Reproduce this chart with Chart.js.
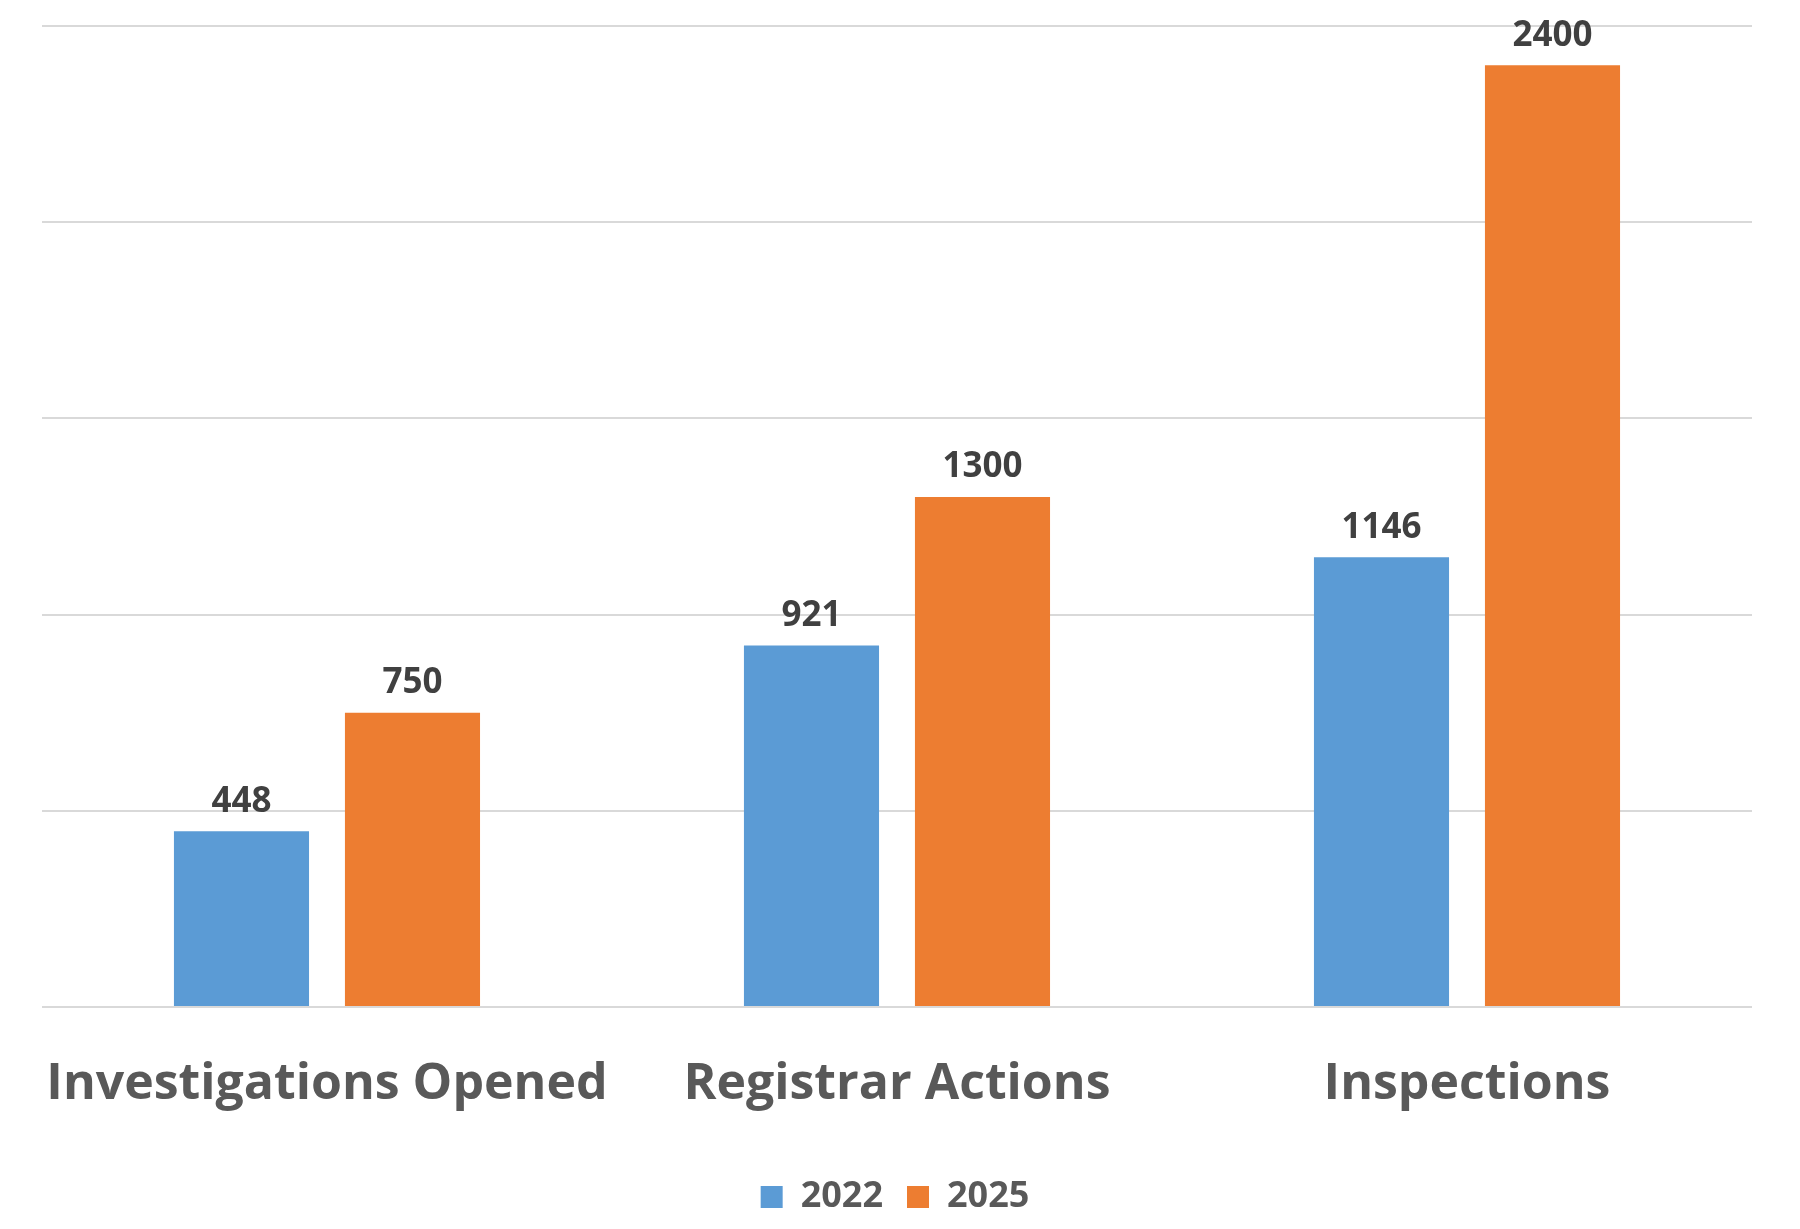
<!DOCTYPE html>
<html><head><meta charset="utf-8">
<script src="https://cdn.jsdelivr.net/npm/chart.js@4"></script>
<style>html,body{margin:0;padding:0;background:#fff}#w{width:1800px;height:1229px}</style>
</head><body><div id="w"><canvas id="c"></canvas></div>
<script>
const categories = ["Investigations Opened", "Registrar Actions", "Inspections"];
const series2022 = [448, 921, 1146];
const series2025 = [750, 1300, 2400];
const seriesNames = ["2022", "2025"];

const labelPlugin = {
  id: 'vals',
  afterDatasetsDraw(chart) {
    const ctx = chart.ctx;
    ctx.save();
    ctx.font = 'bold 35px "Open Sans"';
    ctx.fillStyle = '#404040';
    ctx.textAlign = 'center';
    ctx.textBaseline = 'bottom';
    chart.data.datasets.forEach((ds, i) => {
      chart.getDatasetMeta(i).data.forEach((bar, j) => {
        ctx.fillText(ds.data[j], bar.x, bar.y - 12);
      });
    });
    ctx.restore();
  }
};

new Chart(document.getElementById('c'), {
  type: 'bar',
  data: {
    labels: categories,
    datasets: [
      { label: seriesNames[0], data: series2022, backgroundColor: '#5B9BD5' },
      { label: seriesNames[1], data: series2025, backgroundColor: '#ED7D31' }
    ]
  },
  options: {
    responsive: true, maintainAspectRatio: false, animation: false,
    layout: { padding: { top: 26, left: 38, right: 48, bottom: 4 } },
    datasets: { bar: { categoryPercentage: 0.6, barPercentage: 0.79 } },
    plugins: {
      legend: {
        position: 'bottom',
        labels: { font: { family: 'Open Sans', size: 36, weight: '700' }, color: '#595959', boxWidth: 22, boxHeight: 22, padding: 24 }
      },
      tooltip: { enabled: false }
    },
    scales: {
      x: {
        grid: { display: false }, border: { display: false },
        ticks: { font: { family: 'Open Sans', size: 50, weight: '700' }, color: '#595959', padding: 40 }
      },
      y: {
        min: 0, max: 2500,
        ticks: { stepSize: 500, display: false },
        grid: { color: '#D9D9D9', lineWidth: 2, drawTicks: false },
        border: { display: false }
      }
    }
  },
  plugins: [labelPlugin]
});
</script></body></html>
